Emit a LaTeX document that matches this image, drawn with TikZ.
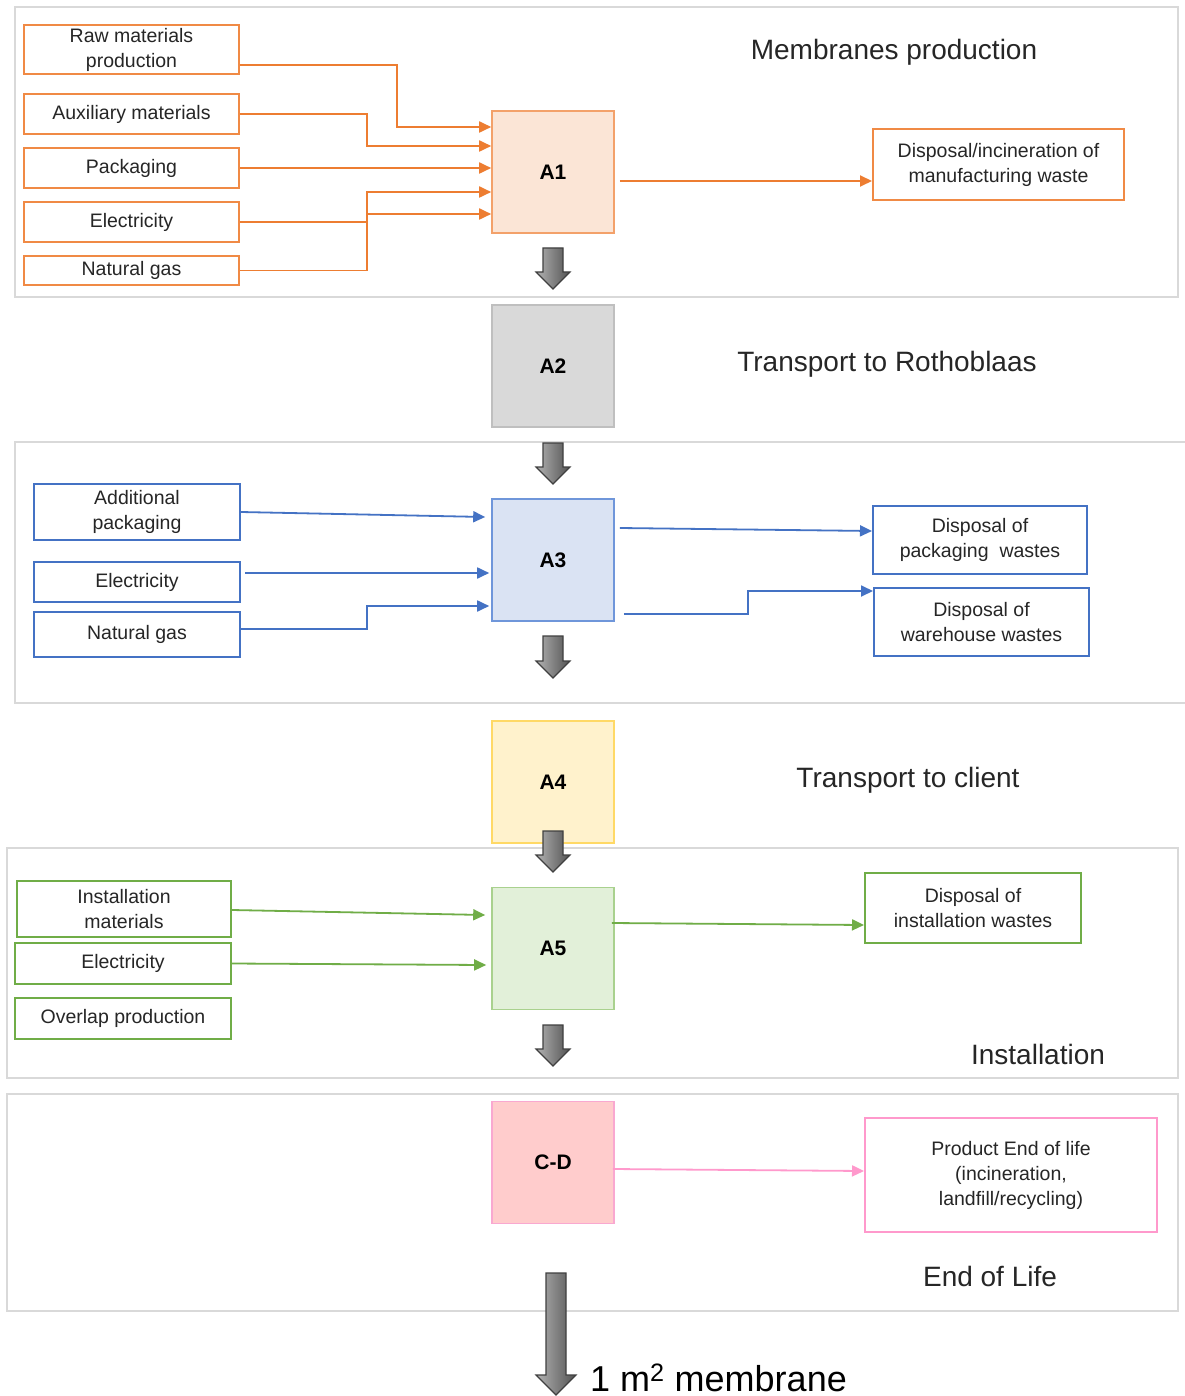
\documentclass[tikz,border=0pt]{standalone}
\usepackage{fontspec}
\setmainfont{Liberation Sans}
\usetikzlibrary{arrows.meta,calc}
\definecolor{txt}{HTML}{262626}
\definecolor{orng}{HTML}{ED7D31}
\definecolor{orngb}{HTML}{F08A45}
\definecolor{blu}{HTML}{4472C4}
\definecolor{grn}{HTML}{70AD47}
\definecolor{pnk}{HTML}{FF99CC}
\definecolor{secgray}{HTML}{D9D9D9}
\newcommand\blkarrow[3]{%
  \path[blk] (#1-10,#2) -- (#1+10,#2) -- (#1+10,#3-17) -- (#1+17,#3-17) -- (#1,#3) -- (#1-17,#3-17) -- (#1-10,#3-17) -- cycle;}
\begin{document}
\begin{tikzpicture}[x=1pt,y=-1pt,
  sec/.style={draw=secgray,line width=1.6pt,fill=white},
  stage/.style={draw,line width=1.6pt,minimum width=122pt,minimum height=122pt,inner sep=0pt,font=\bfseries\fontsize{21}{24}\selectfont,text=black},
  ibox/.style={draw,line width=2pt,fill=white,inner sep=0pt,align=center,text=txt,font=\fontsize{19.5}{25}\selectfont},
  ttl/.style={text=txt,font=\fontsize{28}{32}\selectfont,inner sep=0pt},
  tip/.style={-{Triangle[length=12pt,width=11pt]}},
  oarr/.style={draw=orng,line width=1.8pt,tip},
  barr/.style={draw=blu,line width=1.8pt,tip},
  garr/.style={draw=grn,line width=1.8pt,tip},
  parr/.style={draw=pnk,line width=1.8pt,tip},
  blk/.style={draw=black!75,line width=1.2pt,left color=black!30,right color=black!68}]
\useasboundingbox[fill=white] (0,0) rectangle (1184,1396);
% sections
\draw[sec] (15,7) rectangle (1178,297);
\draw[sec] (15,442) rectangle (1190,703);
\draw[sec] (7,848) rectangle (1178,1078);
\draw[sec] (7,1094) rectangle (1178,1311);
% stage boxes
\node[stage,draw=orngb!80,fill={rgb,255:red,251;green,229;blue,214}] (a1) at (553,172) {A1};
\node[stage,draw=black!25,fill=secgray] (a2) at (553,366) {A2};
\node[stage,draw={rgb,255:red,111;green,150;blue,218},fill={rgb,255:red,218;green,227;blue,243}] (a3) at (553,560) {A3};
\node[stage,draw={rgb,255:red,255;green,217;blue,102},fill={rgb,255:red,255;green,242;blue,204}] (a4) at (553,782) {A4};
\node[stage,draw={rgb,255:red,169;green,209;blue,142},fill={rgb,255:red,226;green,240;blue,217}] (a5) at (553,948.5) {A5};
\node[stage,draw={rgb,255:red,249;green,168;blue,208},fill={rgb,255:red,255;green,204;blue,204}] (cd) at (553,1162.5) {C-D};
% titles
\node[ttl] (t1) at (894,52) {Membranes production};
\node[ttl] (t2) at (887,364) {Transport to Rothoblaas};
\node[ttl] (t4) at (908,780) {Transport to client};
\node[ttl] (t5) at (1038,1054) {Installation};
\node[ttl] (t6) at (990,1276) {End of Life};
% section 1 boxes
\node[ibox,draw=orngb,minimum width=215pt,minimum height=49pt] (raw) at (131.5,49.5) {Raw materials\\production};
\node[ibox,draw=orngb,minimum width=215pt,minimum height=40pt] (aux) at (131.5,114) {Auxiliary materials};
\node[ibox,draw=orngb,minimum width=215pt,minimum height=40pt] (pack) at (131.5,168) {Packaging};
\node[ibox,draw=orngb,minimum width=215pt,minimum height=40pt] (elec1) at (131.5,222) {Electricity};
\node[ibox,draw=orngb,minimum width=215pt,minimum height=29pt] (gas1) at (131.5,270.5) {Natural gas};
\node[ibox,draw=orngb,minimum width=251pt,minimum height=71pt] (disp1) at (998.5,164.5) {Disposal/incineration of\\manufacturing waste};
% section 3 boxes
\node[ibox,draw=blu,minimum width=206pt,minimum height=56pt] (addp) at (137,512) {Additional\\packaging};
\node[ibox,draw=blu,minimum width=206pt,minimum height=40pt] (elec3) at (137,582) {Electricity};
\node[ibox,draw=blu,minimum width=206pt,minimum height=45pt] (gas3) at (137,634.5) {Natural gas};
\node[ibox,draw=blu,minimum width=214pt,minimum height=68pt] (disp3a) at (980,540) {Disposal of\\packaging\ \ wastes};
\node[ibox,draw=blu,minimum width=215pt,minimum height=68pt] (disp3b) at (981.5,622) {Disposal of\\warehouse wastes};
% section 5 boxes
\node[ibox,draw=grn,minimum width=214pt,minimum height=56pt] (instm) at (124,909) {Installation\\materials};
\node[ibox,draw=grn,minimum width=216pt,minimum height=41pt] (elec5) at (123,963.5) {Electricity};
\node[ibox,draw=grn,minimum width=216pt,minimum height=41pt] (overl) at (123,1018.5) {Overlap production};
\node[ibox,draw=grn,minimum width=216pt,minimum height=70pt] (disp5) at (973,908) {Disposal of\\installation wastes};
% section 6 box
\node[ibox,draw=pnk,minimum width=292pt,minimum height=114pt] (eol) at (1011,1175) {Product End of life\\(incineration,\\landfill/recycling)};
% connectors section 1
\draw[oarr] (raw.east |- 0,65) -| (397,127) -- (a1.west |- 0,127);
\draw[oarr] (aux.east) -| (367,146) -- (a1.west |- 0,146);
\draw[oarr] (pack.east) -- (a1.west |- 0,168);
\draw[oarr] (elec1.east) -| (367,192) -- (a1.west |- 0,192);
\draw[oarr] (gas1.east) -| (367,214) -- (a1.west |- 0,214);
\draw[oarr] ($(a1.east |- 0,181)+(5,0)$) -- (disp1.west |- 0,181);
% connectors section 3
\draw[barr] (addp.east) -- ($(a3.west |- 0,517)+(-6,0)$);
\draw[barr] ($(elec3.east |- 0,573)+(4,0)$) -- ($(a3.west |- 0,573)+(-2,0)$);
\draw[barr] (gas3.east |- 0,629) -| (367,606) -- ($(a3.west |- 0,606)+(-2,0)$);
\draw[barr] ($(a3.east |- 0,528)+(5,0)$) -- (disp3a.west |- 0,531);
\draw[barr] ($(a3.east |- 0,614)+(9,0)$) -| (748,591) -- (disp3b.west |- 0,591);
% connectors section 5
\draw[garr] (instm.east |- 0,910) -- ($(a5.west |- 0,915)+(-6,0)$);
\draw[garr] (elec5.east) -- ($(a5.west |- 0,965)+(-5,0)$);
\draw[garr] ($(a5.east |- 0,923)+(-3,0)$) -- (disp5.west |- 0,925);
% connector section 6
\draw[parr] ($(cd.east |- 0,1169)+(-2,0)$) -- (eol.west |- 0,1171);
% block arrows
\blkarrow{553}{248}{289}
\blkarrow{553}{443}{484}
\blkarrow{553}{636}{678}
\blkarrow{553}{831}{872}
\blkarrow{553}{1025}{1066}
\path[blk] (546,1273) -- (566,1273) -- (566,1375) -- (576,1375) -- (556,1395) -- (536,1375) -- (546,1375) -- cycle;
\node[text=black,anchor=base west,inner sep=0pt,font=\fontsize{36}{40}\selectfont] (fu) at (590,1391) {1 m\textsuperscript{2} membrane};
\end{tikzpicture}
\end{document}
